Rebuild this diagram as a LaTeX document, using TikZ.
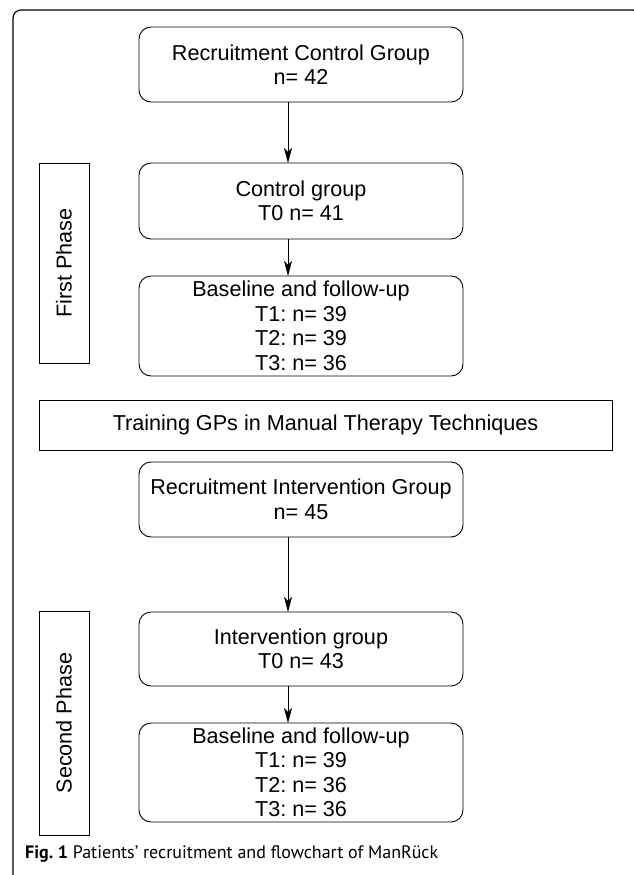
\documentclass[tikz,border=0pt]{standalone}
\usepackage{fontspec}
\setmainfont{Liberation Sans}
\newfontfamily\capfont{PT Sans}
\usepackage{tikz}
\usetikzlibrary{arrows.meta}
\frenchspacing

\begin{document}
\begin{tikzpicture}[x=1pt, y=-1pt,
    box/.style={draw, line width=0.9pt, rounded corners=12pt, align=center,
      minimum width=324pt, inner sep=0pt, outer sep=0pt,
      font=\fontsize{21.6}{24.5}\selectfont},
    phase/.style={draw, line width=0.9pt, rotate=90, minimum height=50pt,
      inner sep=0pt, outer sep=0pt, font=\fontsize{21.6}{24.5}\selectfont},
    arr/.style={line width=0.9pt, -{Stealth[length=15pt, width=8pt, inset=4pt]}}]
  \useasboundingbox (0,0) rectangle (633,875);
  \draw [line width=1.2pt, rounded corners=8pt] (13,880) -- (13,10) -- (641,10) -- (641,40);

  \node [box, minimum height=75pt] (rcg) at (301,64.5) {Recruitment Control Group\\n= 42};
  \node [box, minimum height=76pt] (cg) at (301,201) {Control group\\T0 n= 41};
  \node [box, minimum height=100pt] (fu1) at (301,326) {Baseline and follow-up\\T1: n= 39\\T2: n= 39\\T3: n= 36};
  \node [phase, minimum width=200pt] (ph1) at (64,263) {First Phase};

  \node [draw, line width=0.9pt, minimum width=573pt, minimum height=50pt, inner sep=0pt,
    font=\fontsize{21.6}{24.5}\selectfont] (train) at (325.5,425) {Training GPs in Manual Therapy Techniques};

  \node [box, minimum height=75pt] (rig) at (301,499.5) {Recruitment Intervention Group\\n= 45};
  \node [box, minimum height=74pt] (ig) at (301,649) {Intervention group\\T0 n= 43};
  \node [box, minimum height=99pt] (fu2) at (301,772.5) {Baseline and follow-up\\T1: n= 39\\T2: n= 36\\T3: n= 36};
  \node [phase, minimum width=224pt] (ph2) at (64,723) {Second Phase};

  \draw [arr] ([xshift=-13pt]rcg.south) -- ([xshift=-13pt]cg.north);
  \draw [arr] ([xshift=-13pt]cg.south) -- ([xshift=-13pt]fu1.north);
  \draw [arr] ([xshift=-13pt]rig.south) -- ([xshift=-13pt]ig.north);
  \draw [arr] ([xshift=-13pt]ig.south) -- ([xshift=-13pt]fu2.north);

  \node [anchor=base west, inner sep=0pt, font=\capfont\fontsize{18}{20}\selectfont] (cap) at (25,858)
    {\textbf{Fig.\ 1} Patients’ recruitment and flowchart of ManRück};
\end{tikzpicture}
\end{document}
